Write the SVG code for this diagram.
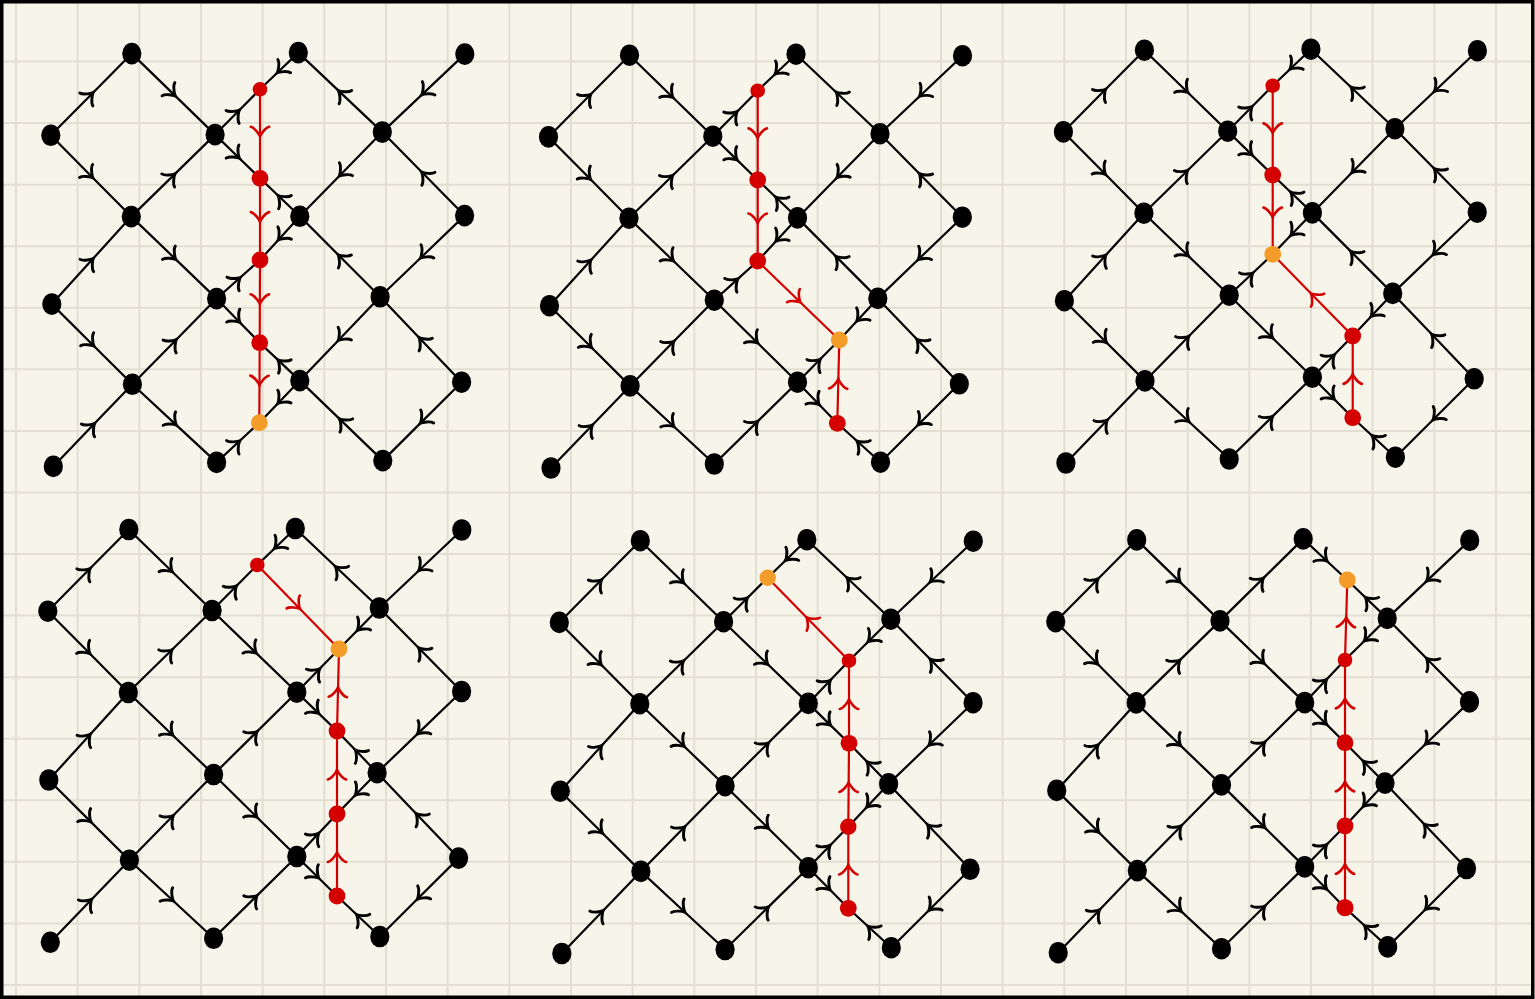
<svg xmlns="http://www.w3.org/2000/svg" xmlns:xlink="http://www.w3.org/1999/xlink" width="1535" height="999" viewBox="0 0 1535 999">
<style>
.e{fill:none;stroke:#000;stroke-width:2.2;marker-mid:url(#ab)}
.r{fill:none;stroke:#d40000;stroke-width:2.2;marker-mid:url(#ar)}
.n{fill:#000}
.rn{fill:#d40000}
.on{fill:#f39c2a}
.grid{fill:none;stroke:#e2dfd2;stroke-width:2}
</style>
<defs>
<marker id="ab" viewBox="-12 -12 24 24" markerWidth="24" markerHeight="24" refX="0" refY="0" orient="auto" markerUnits="userSpaceOnUse" overflow="visible">
<path d="M-7,-9.2 C-6.4,-5.6 0.6,-0.65 2.6,0 C0.6,0.65 -6.4,5.6 -7,9.2" fill="none" stroke="#000" stroke-width="2.9" stroke-linecap="round"/>
</marker>
<marker id="ar" viewBox="-12 -12 24 24" markerWidth="24" markerHeight="24" refX="0" refY="0" orient="auto" markerUnits="userSpaceOnUse" overflow="visible">
<path d="M-7,-9.2 C-6.4,-5.6 0.6,-0.65 2.6,0 C0.6,0.65 -6.4,5.6 -7,9.2" fill="none" stroke="#d40000" stroke-width="2.6" stroke-linecap="round"/>
</marker>
<g id="lat-common">
<path class="e" d="M-81 81.7 L-40.5 40.85 L0 0"/>
<path class="e" d="M0 0 L41.65 40.5 L83.3 81"/>
<path class="e" d="M-81 81.7 L-40.75 122.35 L-0.5 163"/>
<path class="e" d="M-0.5 163 L41.4 122 L83.3 81"/>
<path class="e" d="M-80 250.5 L-40.25 206.75 L-0.5 163"/>
<path class="e" d="M-0.5 163 L42.15 204 L84.8 245"/>
<path class="e" d="M-80 250.5 L-39.7 290.6 L0.6 330.7"/>
<path class="e" d="M0.6 330.7 L42.7 287.85 L84.8 245"/>
<path class="e" d="M-78.5 412.8 L-38.95 371.75 L0.6 330.7"/>
<path class="e" d="M0.6 330.7 L42.7 369.75 L84.8 408.8"/>
<path class="e" d="M333 0.5 L291.75 39.5 L250.5 78.5"/>
<path class="e" d="M332.8 162 L291.65 120.25 L250.5 78.5"/>
<path class="e" d="M332.8 162 L290.55 202.6 L248.3 243.2"/>
<path class="e" d="M329.8 328.6 L289.05 285.9 L248.3 243.2"/>
<path class="e" d="M329.8 328.6 L290.4 367.8 L251 407"/>
</g>
</defs>
<rect x="0" y="0" width="1535" height="999" fill="#f7f5ea"/>
<path class="grid" d="M16 0V999M77.67 0V999M139.33 0V999M201 0V999M262.67 0V999M324.33 0V999M386 0V999M447.67 0V999M509.33 0V999M571 0V999M632.67 0V999M694.33 0V999M756 0V999M817.67 0V999M879.33 0V999M941 0V999M1002.67 0V999M1064.33 0V999M1126 0V999M1187.67 0V999M1249.33 0V999M1311 0V999M1372.67 0V999M1434.33 0V999M1496 0V999M0 61.56H1535M0 123.12H1535M0 184.68H1535M0 246.24H1535M0 307.8H1535M0 369.36H1535M0 430.92H1535M0 492.48H1535M0 554.04H1535M0 615.6H1535M0 677.16H1535M0 738.72H1535M0 800.28H1535M0 861.84H1535M0 923.4H1535M0 984.96H1535"/>
<rect x="1.75" y="1.75" width="1531" height="995.5" fill="none" stroke="#000" stroke-width="3.5"/>

<!-- Panel 1 -->
<g id="panel1" transform="translate(131.8,53.6)">
<g id="p1-connectors">
<use href="#lat-common"/>
<path class="e" d="M83.3 81 L105.75 58.35 L128.2 35.7"/>
<path class="e" d="M166.5 -1 L147.35 17.35 L128.2 35.7"/>
<path class="e" d="M83.3 81 L105.75 102.85 L128.2 124.7"/>
<path class="e" d="M168 162.7 L148.1 143.7 L128.2 124.7"/>
<path class="e" d="M84.8 245 L106.5 225.7 L128.2 206.4"/>
<path class="e" d="M168 162.7 L148.1 184.55 L128.2 206.4"/>
<path class="e" d="M84.8 245 L106.35 267.05 L127.9 289.1"/>
<path class="e" d="M168 327 L147.95 308.05 L127.9 289.1"/>
<path class="e" d="M84.8 408.8 L106.15 388.95 L127.5 369.1"/>
<path class="e" d="M168 327 L147.75 348.05 L127.5 369.1"/>
<path class="e" d="M250.5 78.5 L208.5 38.75 L166.5 -1"/>
<path class="e" d="M250.5 78.5 L209.25 120.6 L168 162.7"/>
<path class="e" d="M248.3 243.2 L208.15 202.95 L168 162.7"/>
<path class="e" d="M248.3 243.2 L208.15 285.1 L168 327"/>
<path class="e" d="M251 407 L209.5 367 L168 327"/>
<path class="r" d="M128.2 35.7 L128.2 80.2 L128.2 124.7"/>
<path class="r" d="M128.2 124.7 L128.2 165.55 L128.2 206.4"/>
<path class="r" d="M128.2 206.4 L128.05 247.75 L127.9 289.1"/>
<path class="r" d="M127.9 289.1 L127.7 329.1 L127.5 369.1"/>
</g>
<g id="p1-A"><ellipse class="n" cx="0" cy="0" rx="9.6" ry="10.8"/></g>
<g id="p1-B"><ellipse class="n" cx="166.5" cy="-1" rx="9.6" ry="10.8"/></g>
<g id="p1-C"><ellipse class="n" cx="333" cy="0.5" rx="9.6" ry="10.8"/></g>
<g id="p1-D"><ellipse class="n" cx="-81" cy="81.7" rx="9.6" ry="10.8"/></g>
<g id="p1-E"><ellipse class="n" cx="83.3" cy="81" rx="9.6" ry="10.8"/></g>
<g id="p1-F"><ellipse class="n" cx="250.5" cy="78.5" rx="9.6" ry="10.8"/></g>
<g id="p1-G"><ellipse class="n" cx="-0.5" cy="163" rx="9.6" ry="10.8"/></g>
<g id="p1-H"><ellipse class="n" cx="168" cy="162.7" rx="9.6" ry="10.8"/></g>
<g id="p1-I"><ellipse class="n" cx="332.8" cy="162" rx="9.6" ry="10.8"/></g>
<g id="p1-J"><ellipse class="n" cx="-80" cy="250.5" rx="9.6" ry="10.8"/></g>
<g id="p1-K"><ellipse class="n" cx="84.8" cy="245" rx="9.6" ry="10.8"/></g>
<g id="p1-L"><ellipse class="n" cx="248.3" cy="243.2" rx="9.6" ry="10.8"/></g>
<g id="p1-M"><ellipse class="n" cx="0.6" cy="330.7" rx="9.6" ry="10.8"/></g>
<g id="p1-N"><ellipse class="n" cx="168" cy="327" rx="9.6" ry="10.8"/></g>
<g id="p1-O"><ellipse class="n" cx="329.8" cy="328.6" rx="9.6" ry="10.8"/></g>
<g id="p1-P"><ellipse class="n" cx="-78.5" cy="412.8" rx="9.6" ry="10.8"/></g>
<g id="p1-Q"><ellipse class="n" cx="84.8" cy="408.8" rx="9.6" ry="10.8"/></g>
<g id="p1-R"><ellipse class="n" cx="251" cy="407" rx="9.6" ry="10.8"/></g>
<g id="p1-r1"><circle class="rn" cx="128.2" cy="35.7" r="7.3"/></g>
<g id="p1-r2"><circle class="rn" cx="128.2" cy="124.7" r="8.4"/></g>
<g id="p1-r3"><circle class="rn" cx="128.2" cy="206.4" r="8.4"/></g>
<g id="p1-r4"><circle class="rn" cx="127.9" cy="289.1" r="8.4"/></g>
<g id="p1-o"><circle class="on" cx="127.5" cy="369.1" r="8.4"/></g>
</g>

<!-- Panel 2 -->
<g id="panel2" transform="translate(629.5,55.2)">
<g id="p2-connectors">
<use href="#lat-common"/>
<path class="e" d="M83.3 81 L105.75 58.25 L128.2 35.5"/>
<path class="e" d="M166.5 -1 L147.35 17.25 L128.2 35.5"/>
<path class="e" d="M83.3 81 L105.75 102.9 L128.2 124.8"/>
<path class="e" d="M168 162.7 L148.1 143.75 L128.2 124.8"/>
<path class="e" d="M84.8 245 L106.5 225.4 L128.2 205.8"/>
<path class="e" d="M168 162.7 L148.1 184.25 L128.2 205.8"/>
<path class="e" d="M168 327 L188.9 305.9 L209.8 284.8"/>
<path class="e" d="M248.3 243.2 L229.05 264 L209.8 284.8"/>
<path class="e" d="M168 327 L187.9 347.55 L207.8 368.1"/>
<path class="e" d="M251 407 L229.4 387.55 L207.8 368.1"/>
<path class="e" d="M84.8 245 L126.4 286 L168 327"/>
<path class="e" d="M84.8 408.8 L126.4 367.9 L168 327"/>
<path class="e" d="M250.5 78.5 L208.5 38.75 L166.5 -1"/>
<path class="e" d="M250.5 78.5 L209.25 120.6 L168 162.7"/>
<path class="e" d="M248.3 243.2 L208.15 202.95 L168 162.7"/>
<path class="r" d="M128.2 35.5 L128.2 80.15 L128.2 124.8"/>
<path class="r" d="M128.2 124.8 L128.2 165.3 L128.2 205.8"/>
<path class="r" d="M128.2 205.8 L169 245.3 L209.8 284.8"/>
<path class="r" d="M207.8 368.1 L208.8 326.45 L209.8 284.8"/>
</g>
<g id="p2-A"><ellipse class="n" cx="0" cy="0" rx="9.6" ry="10.8"/></g>
<g id="p2-B"><ellipse class="n" cx="166.5" cy="-1" rx="9.6" ry="10.8"/></g>
<g id="p2-C"><ellipse class="n" cx="333" cy="0.5" rx="9.6" ry="10.8"/></g>
<g id="p2-D"><ellipse class="n" cx="-81" cy="81.7" rx="9.6" ry="10.8"/></g>
<g id="p2-E"><ellipse class="n" cx="83.3" cy="81" rx="9.6" ry="10.8"/></g>
<g id="p2-F"><ellipse class="n" cx="250.5" cy="78.5" rx="9.6" ry="10.8"/></g>
<g id="p2-G"><ellipse class="n" cx="-0.5" cy="163" rx="9.6" ry="10.8"/></g>
<g id="p2-H"><ellipse class="n" cx="168" cy="162.7" rx="9.6" ry="10.8"/></g>
<g id="p2-I"><ellipse class="n" cx="332.8" cy="162" rx="9.6" ry="10.8"/></g>
<g id="p2-J"><ellipse class="n" cx="-80" cy="250.5" rx="9.6" ry="10.8"/></g>
<g id="p2-K"><ellipse class="n" cx="84.8" cy="245" rx="9.6" ry="10.8"/></g>
<g id="p2-L"><ellipse class="n" cx="248.3" cy="243.2" rx="9.6" ry="10.8"/></g>
<g id="p2-M"><ellipse class="n" cx="0.6" cy="330.7" rx="9.6" ry="10.8"/></g>
<g id="p2-N"><ellipse class="n" cx="168" cy="327" rx="9.6" ry="10.8"/></g>
<g id="p2-O"><ellipse class="n" cx="329.8" cy="328.6" rx="9.6" ry="10.8"/></g>
<g id="p2-P"><ellipse class="n" cx="-78.5" cy="412.8" rx="9.6" ry="10.8"/></g>
<g id="p2-Q"><ellipse class="n" cx="84.8" cy="408.8" rx="9.6" ry="10.8"/></g>
<g id="p2-R"><ellipse class="n" cx="251" cy="407" rx="9.6" ry="10.8"/></g>
<g id="p2-r1"><circle class="rn" cx="128.2" cy="35.5" r="7.3"/></g>
<g id="p2-r2"><circle class="rn" cx="128.2" cy="124.8" r="8.4"/></g>
<g id="p2-r3"><circle class="rn" cx="128.2" cy="205.8" r="8.4"/></g>
<g id="p2-o"><circle class="on" cx="209.8" cy="284.8" r="8.4"/></g>
<g id="p2-r5"><circle class="rn" cx="207.8" cy="368.1" r="8.4"/></g>
</g>

<!-- Panel 3 -->
<g id="panel3" transform="translate(1144.4,50.2)">
<g id="p3-connectors">
<use href="#lat-common"/>
<path class="e" d="M83.3 81 L105.8 58.25 L128.3 35.5"/>
<path class="e" d="M166.5 -1 L147.4 17.25 L128.3 35.5"/>
<path class="e" d="M83.3 81 L105.8 102.9 L128.3 124.8"/>
<path class="e" d="M168 162.7 L148.15 143.75 L128.3 124.8"/>
<path class="e" d="M84.8 245 L106.55 224.55 L128.3 204.1"/>
<path class="e" d="M168 162.7 L148.15 183.4 L128.3 204.1"/>
<path class="e" d="M168 327 L188.15 306.4 L208.3 285.8"/>
<path class="e" d="M248.3 243.2 L228.3 264.5 L208.3 285.8"/>
<path class="e" d="M168 327 L188.15 347.25 L208.3 367.5"/>
<path class="e" d="M251 407 L229.65 387.25 L208.3 367.5"/>
<path class="e" d="M84.8 245 L126.4 286 L168 327"/>
<path class="e" d="M84.8 408.8 L126.4 367.9 L168 327"/>
<path class="e" d="M250.5 78.5 L208.5 38.75 L166.5 -1"/>
<path class="e" d="M250.5 78.5 L209.25 120.6 L168 162.7"/>
<path class="e" d="M248.3 243.2 L208.15 202.95 L168 162.7"/>
<path class="r" d="M128.3 35.5 L128.3 80.15 L128.3 124.8"/>
<path class="r" d="M128.3 124.8 L128.3 164.45 L128.3 204.1"/>
<path class="r" d="M208.3 285.8 L168.3 244.95 L128.3 204.1"/>
<path class="r" d="M208.3 367.5 L208.3 326.65 L208.3 285.8"/>
</g>
<g id="p3-A"><ellipse class="n" cx="0" cy="0" rx="9.6" ry="10.8"/></g>
<g id="p3-B"><ellipse class="n" cx="166.5" cy="-1" rx="9.6" ry="10.8"/></g>
<g id="p3-C"><ellipse class="n" cx="333" cy="0.5" rx="9.6" ry="10.8"/></g>
<g id="p3-D"><ellipse class="n" cx="-81" cy="81.7" rx="9.6" ry="10.8"/></g>
<g id="p3-E"><ellipse class="n" cx="83.3" cy="81" rx="9.6" ry="10.8"/></g>
<g id="p3-F"><ellipse class="n" cx="250.5" cy="78.5" rx="9.6" ry="10.8"/></g>
<g id="p3-G"><ellipse class="n" cx="-0.5" cy="163" rx="9.6" ry="10.8"/></g>
<g id="p3-H"><ellipse class="n" cx="168" cy="162.7" rx="9.6" ry="10.8"/></g>
<g id="p3-I"><ellipse class="n" cx="332.8" cy="162" rx="9.6" ry="10.8"/></g>
<g id="p3-J"><ellipse class="n" cx="-80" cy="250.5" rx="9.6" ry="10.8"/></g>
<g id="p3-K"><ellipse class="n" cx="84.8" cy="245" rx="9.6" ry="10.8"/></g>
<g id="p3-L"><ellipse class="n" cx="248.3" cy="243.2" rx="9.6" ry="10.8"/></g>
<g id="p3-M"><ellipse class="n" cx="0.6" cy="330.7" rx="9.6" ry="10.8"/></g>
<g id="p3-N"><ellipse class="n" cx="168" cy="327" rx="9.6" ry="10.8"/></g>
<g id="p3-O"><ellipse class="n" cx="329.8" cy="328.6" rx="9.6" ry="10.8"/></g>
<g id="p3-P"><ellipse class="n" cx="-78.5" cy="412.8" rx="9.6" ry="10.8"/></g>
<g id="p3-Q"><ellipse class="n" cx="84.8" cy="408.8" rx="9.6" ry="10.8"/></g>
<g id="p3-R"><ellipse class="n" cx="251" cy="407" rx="9.6" ry="10.8"/></g>
<g id="p3-r1"><circle class="rn" cx="128.3" cy="35.5" r="7.3"/></g>
<g id="p3-r2"><circle class="rn" cx="128.3" cy="124.8" r="8.4"/></g>
<g id="p3-o"><circle class="on" cx="128.3" cy="204.1" r="8.4"/></g>
<g id="p3-r4"><circle class="rn" cx="208.3" cy="285.8" r="8.4"/></g>
<g id="p3-r5"><circle class="rn" cx="208.3" cy="367.5" r="8.4"/></g>
</g>

<!-- Panel 4 -->
<g id="panel4" transform="translate(128.8,529.5)">
<g id="p4-connectors">
<use href="#lat-common"/>
<path class="e" d="M83.3 81 L105.9 58.25 L128.5 35.5"/>
<path class="e" d="M166.5 -1 L147.5 17.25 L128.5 35.5"/>
<path class="e" d="M168 162.7 L189.1 141.1 L210.2 119.5"/>
<path class="e" d="M250.5 78.5 L230.35 99 L210.2 119.5"/>
<path class="e" d="M168 162.7 L188.1 182.1 L208.2 201.5"/>
<path class="e" d="M248.3 243.2 L228.25 222.35 L208.2 201.5"/>
<path class="e" d="M168 327 L188.1 305.75 L208.2 284.5"/>
<path class="e" d="M248.3 243.2 L228.25 263.85 L208.2 284.5"/>
<path class="e" d="M168 327 L188.1 346.75 L208.2 366.5"/>
<path class="e" d="M251 407 L229.6 386.75 L208.2 366.5"/>
<path class="e" d="M83.3 81 L125.65 121.85 L168 162.7"/>
<path class="e" d="M84.8 245 L126.4 203.85 L168 162.7"/>
<path class="e" d="M84.8 245 L126.4 286 L168 327"/>
<path class="e" d="M84.8 408.8 L126.4 367.9 L168 327"/>
<path class="e" d="M250.5 78.5 L208.5 38.75 L166.5 -1"/>
<path class="r" d="M128.5 35.5 L169.35 77.5 L210.2 119.5"/>
<path class="r" d="M208.2 201.5 L209.2 160.5 L210.2 119.5"/>
<path class="r" d="M208.2 284.5 L208.2 243 L208.2 201.5"/>
<path class="r" d="M208.2 366.5 L208.2 325.5 L208.2 284.5"/>
</g>
<g id="p4-A"><ellipse class="n" cx="0" cy="0" rx="9.6" ry="10.8"/></g>
<g id="p4-B"><ellipse class="n" cx="166.5" cy="-1" rx="9.6" ry="10.8"/></g>
<g id="p4-C"><ellipse class="n" cx="333" cy="0.5" rx="9.6" ry="10.8"/></g>
<g id="p4-D"><ellipse class="n" cx="-81" cy="81.7" rx="9.6" ry="10.8"/></g>
<g id="p4-E"><ellipse class="n" cx="83.3" cy="81" rx="9.6" ry="10.8"/></g>
<g id="p4-F"><ellipse class="n" cx="250.5" cy="78.5" rx="9.6" ry="10.8"/></g>
<g id="p4-G"><ellipse class="n" cx="-0.5" cy="163" rx="9.6" ry="10.8"/></g>
<g id="p4-H"><ellipse class="n" cx="168" cy="162.7" rx="9.6" ry="10.8"/></g>
<g id="p4-I"><ellipse class="n" cx="332.8" cy="162" rx="9.6" ry="10.8"/></g>
<g id="p4-J"><ellipse class="n" cx="-80" cy="250.5" rx="9.6" ry="10.8"/></g>
<g id="p4-K"><ellipse class="n" cx="84.8" cy="245" rx="9.6" ry="10.8"/></g>
<g id="p4-L"><ellipse class="n" cx="248.3" cy="243.2" rx="9.6" ry="10.8"/></g>
<g id="p4-M"><ellipse class="n" cx="0.6" cy="330.7" rx="9.6" ry="10.8"/></g>
<g id="p4-N"><ellipse class="n" cx="168" cy="327" rx="9.6" ry="10.8"/></g>
<g id="p4-O"><ellipse class="n" cx="329.8" cy="328.6" rx="9.6" ry="10.8"/></g>
<g id="p4-P"><ellipse class="n" cx="-78.5" cy="412.8" rx="9.6" ry="10.8"/></g>
<g id="p4-Q"><ellipse class="n" cx="84.8" cy="408.8" rx="9.6" ry="10.8"/></g>
<g id="p4-R"><ellipse class="n" cx="251" cy="407" rx="9.6" ry="10.8"/></g>
<g id="p4-r1"><circle class="rn" cx="128.5" cy="35.5" r="7.3"/></g>
<g id="p4-o"><circle class="on" cx="210.2" cy="119.5" r="8.4"/></g>
<g id="p4-r3"><circle class="rn" cx="208.2" cy="201.5" r="8.4"/></g>
<g id="p4-r4"><circle class="rn" cx="208.2" cy="284.5" r="8.4"/></g>
<g id="p4-r5"><circle class="rn" cx="208.2" cy="366.5" r="8.4"/></g>
</g>

<!-- Panel 5 -->
<g id="panel5" transform="translate(640.3,540.7)">
<g id="p5-connectors">
<use href="#lat-common"/>
<path class="e" d="M83.3 81 L105.35 59 L127.4 37"/>
<path class="e" d="M166.5 -1 L146.95 18 L127.4 37"/>
<path class="e" d="M168 162.7 L188.35 141.35 L208.7 120"/>
<path class="e" d="M250.5 78.5 L229.6 99.25 L208.7 120"/>
<path class="e" d="M168 162.7 L188.35 182.65 L208.7 202.6"/>
<path class="e" d="M248.3 243.2 L228.5 222.9 L208.7 202.6"/>
<path class="e" d="M168 327 L188 306.5 L208 286"/>
<path class="e" d="M248.3 243.2 L228.15 264.6 L208 286"/>
<path class="e" d="M168 327 L188 347.3 L208 367.6"/>
<path class="e" d="M251 407 L229.5 387.3 L208 367.6"/>
<path class="e" d="M83.3 81 L125.65 121.85 L168 162.7"/>
<path class="e" d="M84.8 245 L126.4 203.85 L168 162.7"/>
<path class="e" d="M84.8 245 L126.4 286 L168 327"/>
<path class="e" d="M84.8 408.8 L126.4 367.9 L168 327"/>
<path class="e" d="M250.5 78.5 L208.5 38.75 L166.5 -1"/>
<path class="r" d="M208.7 120 L168.05 78.5 L127.4 37"/>
<path class="r" d="M208.7 202.6 L208.7 161.3 L208.7 120"/>
<path class="r" d="M208 286 L208.35 244.3 L208.7 202.6"/>
<path class="r" d="M208 367.6 L208 326.8 L208 286"/>
</g>
<g id="p5-A"><ellipse class="n" cx="0" cy="0" rx="9.6" ry="10.8"/></g>
<g id="p5-B"><ellipse class="n" cx="166.5" cy="-1" rx="9.6" ry="10.8"/></g>
<g id="p5-C"><ellipse class="n" cx="333" cy="0.5" rx="9.6" ry="10.8"/></g>
<g id="p5-D"><ellipse class="n" cx="-81" cy="81.7" rx="9.6" ry="10.8"/></g>
<g id="p5-E"><ellipse class="n" cx="83.3" cy="81" rx="9.6" ry="10.8"/></g>
<g id="p5-F"><ellipse class="n" cx="250.5" cy="78.5" rx="9.6" ry="10.8"/></g>
<g id="p5-G"><ellipse class="n" cx="-0.5" cy="163" rx="9.6" ry="10.8"/></g>
<g id="p5-H"><ellipse class="n" cx="168" cy="162.7" rx="9.6" ry="10.8"/></g>
<g id="p5-I"><ellipse class="n" cx="332.8" cy="162" rx="9.6" ry="10.8"/></g>
<g id="p5-J"><ellipse class="n" cx="-80" cy="250.5" rx="9.6" ry="10.8"/></g>
<g id="p5-K"><ellipse class="n" cx="84.8" cy="245" rx="9.6" ry="10.8"/></g>
<g id="p5-L"><ellipse class="n" cx="248.3" cy="243.2" rx="9.6" ry="10.8"/></g>
<g id="p5-M"><ellipse class="n" cx="0.6" cy="330.7" rx="9.6" ry="10.8"/></g>
<g id="p5-N"><ellipse class="n" cx="168" cy="327" rx="9.6" ry="10.8"/></g>
<g id="p5-O"><ellipse class="n" cx="329.8" cy="328.6" rx="9.6" ry="10.8"/></g>
<g id="p5-P"><ellipse class="n" cx="-78.5" cy="412.8" rx="9.6" ry="10.8"/></g>
<g id="p5-Q"><ellipse class="n" cx="84.8" cy="408.8" rx="9.6" ry="10.8"/></g>
<g id="p5-R"><ellipse class="n" cx="251" cy="407" rx="9.6" ry="10.8"/></g>
<g id="p5-o"><circle class="on" cx="127.4" cy="37" r="8.2"/></g>
<g id="p5-r2"><circle class="rn" cx="208.7" cy="120" r="7.3"/></g>
<g id="p5-r3"><circle class="rn" cx="208.7" cy="202.6" r="8.4"/></g>
<g id="p5-r4"><circle class="rn" cx="208" cy="286" r="8.2"/></g>
<g id="p5-r5"><circle class="rn" cx="208" cy="367.6" r="8.4"/></g>
</g>

<!-- Panel 6 -->
<g id="panel6" transform="translate(1136.7,539.9)">
<g id="p6-connectors">
<use href="#lat-common"/>
<path class="e" d="M166.5 -1 L188.55 19.55 L210.6 40.1"/>
<path class="e" d="M250.5 78.5 L230.55 59.3 L210.6 40.1"/>
<path class="e" d="M168 162.7 L188.15 141.4 L208.3 120.1"/>
<path class="e" d="M250.5 78.5 L229.4 99.3 L208.3 120.1"/>
<path class="e" d="M168 162.7 L188.15 182.75 L208.3 202.8"/>
<path class="e" d="M248.3 243.2 L228.3 223 L208.3 202.8"/>
<path class="e" d="M168 327 L188.15 306.55 L208.3 286.1"/>
<path class="e" d="M248.3 243.2 L228.3 264.65 L208.3 286.1"/>
<path class="e" d="M168 327 L188.15 347.4 L208.3 367.8"/>
<path class="e" d="M251 407 L229.65 387.4 L208.3 367.8"/>
<path class="e" d="M83.3 81 L124.9 40 L166.5 -1"/>
<path class="e" d="M83.3 81 L125.65 121.85 L168 162.7"/>
<path class="e" d="M84.8 245 L126.4 203.85 L168 162.7"/>
<path class="e" d="M84.8 245 L126.4 286 L168 327"/>
<path class="e" d="M84.8 408.8 L126.4 367.9 L168 327"/>
<path class="r" d="M208.3 120.1 L209.45 80.1 L210.6 40.1"/>
<path class="r" d="M208.3 202.8 L208.3 161.45 L208.3 120.1"/>
<path class="r" d="M208.3 286.1 L208.3 244.45 L208.3 202.8"/>
<path class="r" d="M208.3 367.8 L208.3 326.95 L208.3 286.1"/>
</g>
<g id="p6-A"><ellipse class="n" cx="0" cy="0" rx="9.6" ry="10.8"/></g>
<g id="p6-B"><ellipse class="n" cx="166.5" cy="-1" rx="9.6" ry="10.8"/></g>
<g id="p6-C"><ellipse class="n" cx="333" cy="0.5" rx="9.6" ry="10.8"/></g>
<g id="p6-D"><ellipse class="n" cx="-81" cy="81.7" rx="9.6" ry="10.8"/></g>
<g id="p6-E"><ellipse class="n" cx="83.3" cy="81" rx="9.6" ry="10.8"/></g>
<g id="p6-F"><ellipse class="n" cx="250.5" cy="78.5" rx="9.6" ry="10.8"/></g>
<g id="p6-G"><ellipse class="n" cx="-0.5" cy="163" rx="9.6" ry="10.8"/></g>
<g id="p6-H"><ellipse class="n" cx="168" cy="162.7" rx="9.6" ry="10.8"/></g>
<g id="p6-I"><ellipse class="n" cx="332.8" cy="162" rx="9.6" ry="10.8"/></g>
<g id="p6-J"><ellipse class="n" cx="-80" cy="250.5" rx="9.6" ry="10.8"/></g>
<g id="p6-K"><ellipse class="n" cx="84.8" cy="245" rx="9.6" ry="10.8"/></g>
<g id="p6-L"><ellipse class="n" cx="248.3" cy="243.2" rx="9.6" ry="10.8"/></g>
<g id="p6-M"><ellipse class="n" cx="0.6" cy="330.7" rx="9.6" ry="10.8"/></g>
<g id="p6-N"><ellipse class="n" cx="168" cy="327" rx="9.6" ry="10.8"/></g>
<g id="p6-O"><ellipse class="n" cx="329.8" cy="328.6" rx="9.6" ry="10.8"/></g>
<g id="p6-P"><ellipse class="n" cx="-78.5" cy="412.8" rx="9.6" ry="10.8"/></g>
<g id="p6-Q"><ellipse class="n" cx="84.8" cy="408.8" rx="9.6" ry="10.8"/></g>
<g id="p6-R"><ellipse class="n" cx="251" cy="407" rx="9.6" ry="10.8"/></g>
<g id="p6-o"><circle class="on" cx="210.6" cy="40.1" r="8.4"/></g>
<g id="p6-r2"><circle class="rn" cx="208.3" cy="120.1" r="7.3"/></g>
<g id="p6-r3"><circle class="rn" cx="208.3" cy="202.8" r="8.4"/></g>
<g id="p6-r4"><circle class="rn" cx="208.3" cy="286.1" r="8.4"/></g>
<g id="p6-r5"><circle class="rn" cx="208.3" cy="367.8" r="8.6"/></g>
</g>
</svg>
